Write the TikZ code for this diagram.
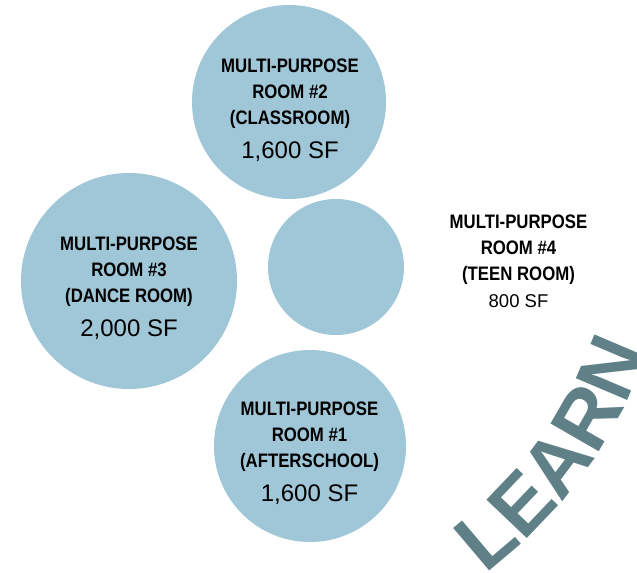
\documentclass[tikz,border=0pt]{standalone}
\usepackage{fontspec}
\setmainfont{Liberation Sans}
\newfontfamily\roomfam[FakeStretch=0.86]{Liberation Sans Bold}
\newfontfamily\sffam{Liberation Sans}
\newfontfamily\learnfam{Liberation Sans Bold}
\usetikzlibrary{decorations.text,calc}
\definecolor{roomblue}{RGB}{160,199,215}
\definecolor{learncol}{RGB}{95,128,134}
\newcommand\sflabel[1]{{\sffam\fontsize{24bp}{26bp}\selectfont #1}}
\newcommand\smallsflabel[1]{{\sffam\fontsize{18.5bp}{26bp}\selectfont #1}}
\newcommand\learnstyle{\learnfam\fontsize{81bp}{81bp}\selectfont\color{learncol}}
\begin{document}
\begin{tikzpicture}[x=1bp,y=1bp,
  room/.style={circle, fill=roomblue, draw=none, minimum size=#1, inner sep=0pt},
  roomlabel/.style={align=center, anchor=base, inner sep=0pt,
    font=\roomfam\fontsize{19.5bp}{26bp}\selectfont, text=black}]
\useasboundingbox (0,0) rectangle (637,573);
\clip (0,0) rectangle (637,573);
% circles
\node[room=194bp] (c2) at (289,471) {};
\node[room=216bp] (c3) at (129,292) {};
\node[room=136bp] (c4) at (336,306) {};
\node[room=192bp] (c1) at (310,127) {};
% labels (base anchor = baseline of the last line)
\node[roomlabel] (t2) at (290,414) {MULTI-PURPOSE\\ROOM \#2\\(CLASSROOM)\\[8bp]\sflabel{1,600 SF}};
\node[roomlabel] (t3) at (129,236) {MULTI-PURPOSE\\ROOM \#3\\(DANCE ROOM)\\[8bp]\sflabel{2,000 SF}};
\node[roomlabel] (t1) at (309.5,71) {MULTI-PURPOSE\\ROOM \#1\\(AFTERSCHOOL)\\[8bp]\sflabel{1,600 SF}};
\node[roomlabel] (t4) at (518.5,265) {MULTI-PURPOSE\\ROOM \#4\\(TEEN ROOM)\\[1bp]\smallsflabel{800 SF}};
% LEARN along an arc
\coordinate (lc) at (193.3,382.8);
\path[decorate, decoration={text along path, text={|\learnstyle|LEARN}}]
  ($(lc)+(-52.7:482)$) arc[start angle=-52.7, end angle=0, radius=482];
\end{tikzpicture}
\end{document}
